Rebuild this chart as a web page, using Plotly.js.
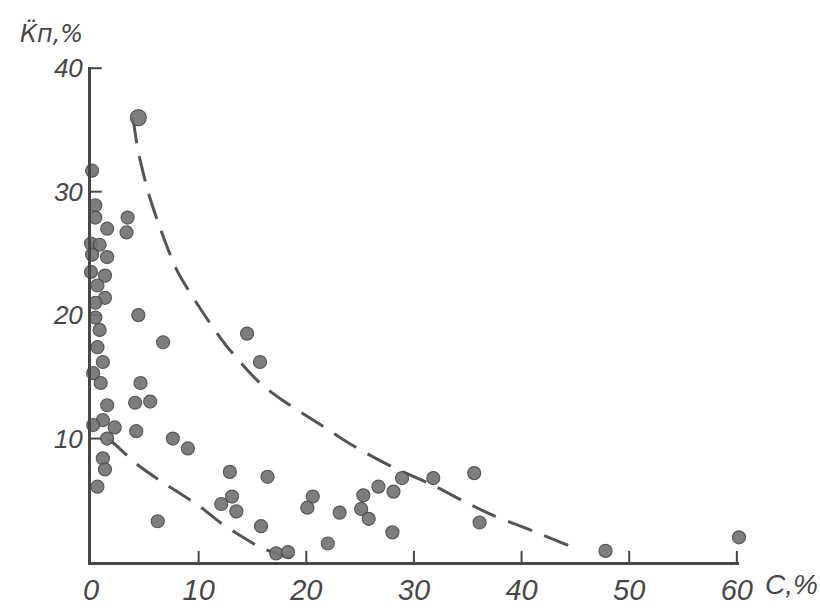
<!DOCTYPE html>
<html>
<head>
<meta charset="utf-8">
<script src="https://cdn.plot.ly/plotly-3.0.1.min.js"></script>
<style>html,body{margin:0;padding:0;background:#fff;}#chart{width:820px;height:611px;}</style>
</head>
<body>
<div id="chart"></div>
<script>
// Scatter data: C, % (x) and Kп, % (y)
var pointsX = [4.4, 0.1, 0.4, 0.4, 1.5, 3.4, 3.3, 0.0, 0.8, 0.1, 1.5, 0.0, 1.3, 0.6, 1.3, 0.4, 0.4, 0.8, 4.4, 6.7, 0.6,
  1.1, 0.2, 0.9, 4.6, 1.5, 4.1, 5.5, 1.1, 0.2, 2.2, 4.2, 1.5, 7.6, 9.0, 1.1, 1.3, 0.6, 6.2,
  12.9, 13.1, 12.1, 13.5, 14.5, 15.7, 16.4, 15.8, 17.2, 18.3, 20.6, 20.1, 22.0, 23.1, 25.1, 25.3, 25.8,
  26.7, 28.1, 28.0, 28.9, 31.8, 35.6, 36.1, 47.8, 60.2];
var pointsY = [36.0, 31.7, 28.9, 27.9, 27.0, 27.9, 26.7, 25.8, 25.7, 24.9, 24.7, 23.5, 23.2, 22.4, 21.4, 21.0, 19.8, 18.8, 20.0, 17.8, 17.4,
  16.2, 15.3, 14.5, 14.5, 12.7, 12.9, 13.0, 11.5, 11.1, 10.9, 10.6, 10.0, 10.0, 9.2, 8.4, 7.5, 6.1, 3.3,
  7.3, 5.3, 4.7, 4.1, 18.5, 16.2, 6.9, 2.9, 0.7, 0.8, 5.3, 4.4, 1.5, 4.0, 4.3, 5.4, 3.5,
  6.1, 5.7, 2.4, 6.8, 6.8, 7.2, 3.2, 0.9, 2.0];
var pointSizes = pointsX.map(function (v, i) { return i === 0 ? 16 : 13; });

// Upper dashed envelope
var upperX = [3.9, 4.2, 4.4, 5.3, 6.4, 8.0, 10.1, 12.5, 15.7, 17.8, 21.0, 24.0, 28.0, 31.8, 34.9, 37.3, 40.8, 45.0];
var upperY = [36.0, 34.2, 33.2, 30.0, 27.1, 23.6, 20.6, 17.6, 14.5, 13.1, 11.3, 9.6, 7.7, 6.2, 4.8, 3.8, 2.6, 1.1];

// Lower dashed envelope
var lowerX = [1.5, 2.0, 4.3, 6.4, 10.1, 12.0, 14.5, 15.7, 17.5, 19.8];
var lowerY = [10.0, 9.7, 7.9, 6.6, 4.5, 3.2, 1.8, 1.2, 0.6, 0.2];

var xTicks = [0, 10, 20, 30, 40, 50, 60];
var xTickText = ['0', '10', '20', '30', '40', '50', '60'];
var yTicks = [10, 20, 30, 40];
var yTickText = ['10', '20', '30', '40'];

var ink = '#474747';
var lineStyle = {color: '#555', width: 3, dash: '26px,13px'};

// Inward tick marks as a line trace built from the tick arrays (through the axes' scales)
var xTickLen = 1.0, yTickLen = 0.9;
var tickMarkX = [], tickMarkY = [];
xTicks.filter(function (v) { return v > 0; }).forEach(function (v) {
  tickMarkX.push(v, v, null); tickMarkY.push(0, yTickLen, null);
});
yTicks.forEach(function (v) {
  tickMarkX.push(0, xTickLen, null); tickMarkY.push(v, v, null);
});

var traces = [
  {x: tickMarkX, y: tickMarkY, mode: 'lines', type: 'scatter', connectgaps: false, cliponaxis: false,
   line: {color: ink, width: 2}, hoverinfo: 'skip'},
  {x: upperX, y: upperY, mode: 'lines', type: 'scatter', line: {color: lineStyle.color, width: lineStyle.width, dash: lineStyle.dash, shape: 'spline', smoothing: 0.8}, hoverinfo: 'skip'},
  {x: lowerX, y: lowerY, mode: 'lines', type: 'scatter', line: {color: lineStyle.color, width: lineStyle.width, dash: lineStyle.dash, shape: 'spline', smoothing: 0.8}, hoverinfo: 'skip'},
  {x: pointsX, y: pointsY, mode: 'markers', type: 'scatter', cliponaxis: false,
   marker: {size: pointSizes, color: '#747474', opacity: 0.92, line: {color: '#4a4a4a', width: 1.2}}}
];

var tickFontX = {family: 'Liberation Sans, Arial, sans-serif', size: 29, color: ink, style: 'italic'};
var tickFontY = {family: 'Liberation Sans, Arial, sans-serif', size: 26, color: ink, style: 'italic'};

var layout = {
  width: 820, height: 611,
  margin: {l: 91, r: 81, t: 67, b: 49},
  paper_bgcolor: '#fff', plot_bgcolor: 'rgba(0,0,0,0)',
  showlegend: false,
  xaxis: {
    range: [0, 60.2], tickvals: xTicks, ticktext: xTickText,
    showgrid: false, zeroline: false,
    showline: true, linecolor: ink, linewidth: 3,
    ticks: '', tickfont: tickFontX
  },
  yaxis: {
    range: [0, 40.1], tickvals: yTicks, ticktext: yTickText,
    showgrid: false, zeroline: false,
    showline: true, linecolor: ink, linewidth: 3,
    ticks: '', tickfont: tickFontY
  },
  annotations: [
    {text: 'К\u0308п,%', xref: 'paper', yref: 'paper', x: -0.112, y: 1.068, xanchor: 'left', yanchor: 'middle', showarrow: false,
     font: {family: 'DejaVu Sans, sans-serif', size: 24, color: ink, style: 'italic'}},
    {text: 'C,%', xref: 'paper', yref: 'paper', x: 1.037, y: -0.045, xanchor: 'left', yanchor: 'middle', showarrow: false,
     font: {family: 'Liberation Sans, Arial, sans-serif', size: 28, color: ink, style: 'italic'}}
  ]
};

Plotly.newPlot('chart', traces, layout, {displayModeBar: false, staticPlot: true});
</script>
</body>
</html>
